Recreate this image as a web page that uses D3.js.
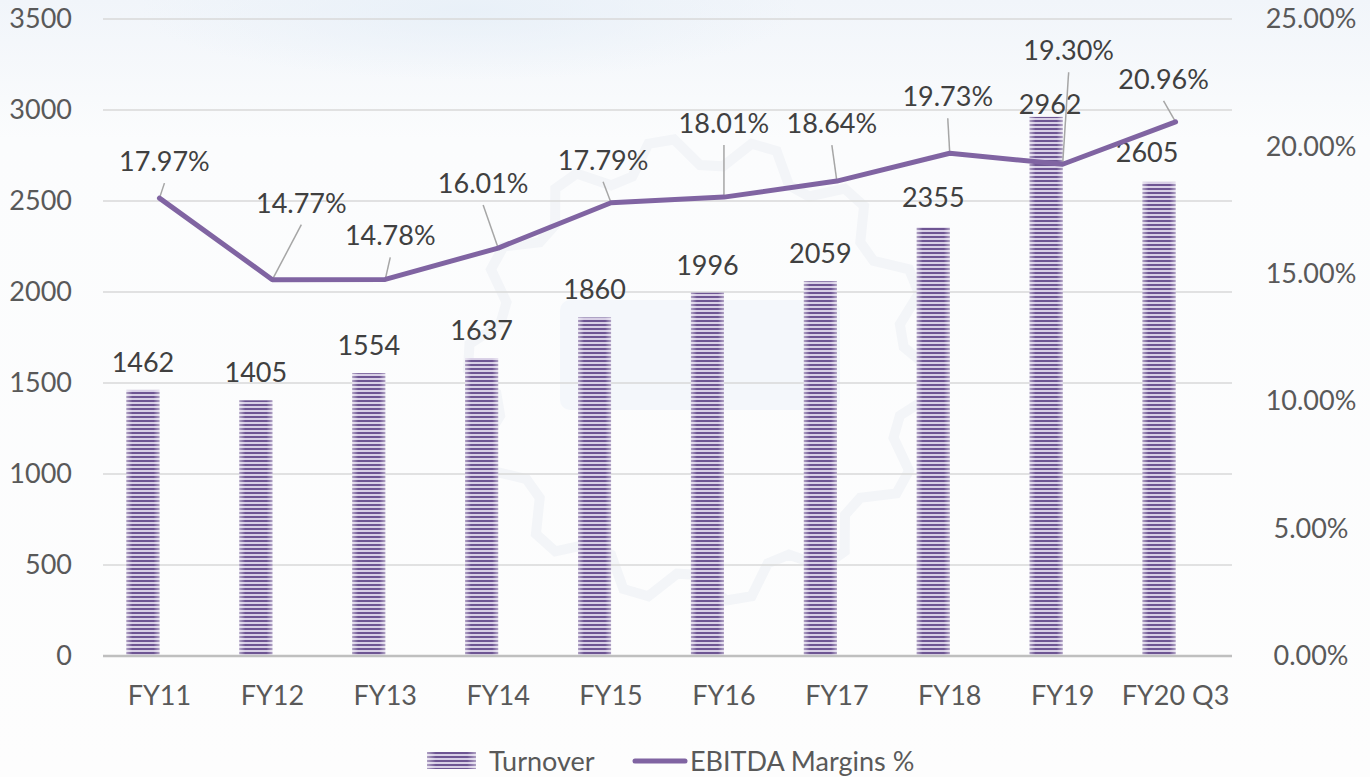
<!DOCTYPE html>
<html>
<head>
<meta charset="utf-8">
<script src="https://cdn.jsdelivr.net/npm/d3@7"></script>
<style>
  html, body { margin: 0; padding: 0; background: #fdfdfd; }
  svg { display: block; }
  text { font-family: Lato, "Open Sans", sans-serif; }
</style>
</head>
<body>
<svg id="chart" width="1370" height="777"></svg>
<script>
// ---- data ----
const categories = ["FY11", "FY12", "FY13", "FY14", "FY15", "FY16", "FY17", "FY18", "FY19", "FY20 Q3"];
const turnover = [1462, 1405, 1554, 1637, 1860, 1996, 2059, 2355, 2962, 2605];
const ebitdaMargin = [17.97, 14.77, 14.78, 16.01, 17.79, 18.01, 18.64, 19.73, 19.30, 20.96];
const leftTicks = [0, 500, 1000, 1500, 2000, 2500, 3000, 3500];
const rightTicks = [0, 5, 10, 15, 20, 25];
const seriesNames = ["Turnover", "EBITDA Margins %"];

// ---- label placement (layout only) ----
const marginLabelShift = [[5, -27], [29, -67], [5, -34], [-15, -55], [-8, -33], [0, -64], [-5, -48], [-2, -47], [6, -104], [-12, -33]];
const turnoverLabelShift = [[0, -18], [0, -18], [0, -18], [0, -18], [0, -18], [0, -18], [0, -18], [0, -20], [4, -3], [-12, -20]];

const svg = d3.select("#chart");
const W = 1370, H = 777;
const plotLeft = 103, plotRight = 1232, plotTop = 19, plotBottom = 656;
const purple = "#8064a2";
const FS = 27;

const defs = svg.append("defs");
const bg = defs.append("linearGradient").attr("id", "bg").attr("x1", 0).attr("y1", 0).attr("x2", 0).attr("y2", 1);
bg.append("stop").attr("offset", "0").attr("stop-color", "#f1f5fa");
bg.append("stop").attr("offset", "0.18").attr("stop-color", "#fbfcfd");
bg.append("stop").attr("offset", "1").attr("stop-color", "#fdfdfd");
const cloud = defs.append("radialGradient").attr("id", "cloud");
cloud.append("stop").attr("offset", "0").attr("stop-color", "#e8f0f8").attr("stop-opacity", 0.9);
cloud.append("stop").attr("offset", "1").attr("stop-color", "#e8f0f8").attr("stop-opacity", 0);

const pat = defs.append("pattern").attr("id", "stripes").attr("patternUnits", "userSpaceOnUse")
  .attr("width", 8).attr("height", 4);
pat.append("rect").attr("width", 8).attr("height", 4).attr("fill", "#d8cfe6");
pat.append("rect").attr("width", 8).attr("height", 2).attr("fill", "#6e5593");
const edge = defs.append("linearGradient").attr("id", "edge").attr("x1", 0).attr("x2", 1).attr("y1", 0).attr("y2", 0);
[[0, 0.45], [0.18, 0], [0.82, 0], [1, 0.45]].forEach(([o, a]) =>
  edge.append("stop").attr("offset", o).attr("stop-color", "#ffffff").attr("stop-opacity", a));

svg.append("rect").attr("width", W).attr("height", H).attr("fill", "url(#bg)");
svg.append("ellipse").attr("cx", 470).attr("cy", 10).attr("rx", 330).attr("ry", 70).attr("fill", "url(#cloud)");

// very faint watermark gear
(function () {
  const gx = 700, gy = 370, r1 = 205, r2 = 232, teeth = 14;
  const pts = [];
  for (let i = 0; i < teeth * 4; i++) {
    const a = (i / (teeth * 4)) * Math.PI * 2;
    const r = (Math.floor(i / 2) % 2 === 0) ? r2 : r1;
    pts.push([gx + r * Math.cos(a), gy + r * Math.sin(a)]);
  }
  svg.append("path").attr("d", d3.line().curve(d3.curveLinearClosed)(pts))
    .attr("fill", "none").attr("stroke", "#f3f5f8").attr("stroke-width", 10);
  svg.append("rect").attr("x", 560).attr("y", 300).attr("width", 280).attr("height", 110)
    .attr("rx", 10).attr("fill", "#f4f7fb");
})();

const x = d3.scaleBand().domain(categories).range([plotLeft, plotRight]).padding(0);
const yL = d3.scaleLinear().domain([0, 3500]).range([plotBottom, plotTop]);
const yR = d3.scaleLinear().domain([0, 25]).range([plotBottom, plotTop]);
const cx = d => x(d) + x.bandwidth() / 2;
const barW = 33;

// gridlines
svg.append("g").selectAll("line").data(leftTicks.filter(t => t > 0)).join("line")
  .attr("x1", plotLeft).attr("x2", plotRight).attr("y1", d => yL(d)).attr("y2", d => yL(d))
  .attr("stroke", "#d9d9d9").attr("stroke-width", 1.5);

// left axis
const axL = svg.append("g").attr("transform", `translate(${plotLeft},0)`)
  .call(d3.axisLeft(yL).tickValues(leftTicks).tickSize(0).tickPadding(31).tickFormat(d3.format("d")));
axL.select(".domain").remove();
axL.selectAll("text").attr("font-size", FS).attr("fill", "#595959").attr("font-family", "Lato");

// right axis
const axR = svg.append("g").attr("transform", `translate(${plotRight},0)`)
  .call(d3.axisRight(yR).tickValues(rightTicks).tickSize(0).tickPadding(79).tickFormat(d => d.toFixed(2) + "%"));
axR.select(".domain").remove();
axR.selectAll("text").attr("font-size", FS).attr("fill", "#595959").attr("font-family", "Lato").attr("text-anchor", "middle");

// bars
const bars = svg.append("g");
bars.selectAll("rect.bar").data(turnover).join("rect").attr("class", "bar")
  .attr("x", (d, i) => cx(categories[i]) - barW).attr("width", barW)
  .attr("y", d => yL(d)).attr("height", d => yL(0) - yL(d))
  .attr("fill", "url(#stripes)");
bars.selectAll("rect.edge").data(turnover).join("rect").attr("class", "edge")
  .attr("x", (d, i) => cx(categories[i]) - barW).attr("width", barW)
  .attr("y", d => yL(d)).attr("height", d => yL(0) - yL(d))
  .attr("fill", "url(#edge)");

// x axis
svg.append("line").attr("x1", plotLeft).attr("x2", plotRight).attr("y1", plotBottom).attr("y2", plotBottom)
  .attr("stroke", "#bfbfbf").attr("stroke-width", 2.5);
const axB = svg.append("g").attr("transform", `translate(0,${plotBottom})`)
  .call(d3.axisBottom(x).tickSize(0).tickPadding(30));
axB.select(".domain").remove();
axB.selectAll("text").attr("font-size", FS).attr("fill", "#595959").attr("font-family", "Lato");

// bar labels
svg.append("g").selectAll("text").data(turnover).join("text")
  .attr("x", (d, i) => cx(categories[i]) - barW / 2 + turnoverLabelShift[i][0])
  .attr("y", (d, i) => yL(d) + turnoverLabelShift[i][1])
  .attr("text-anchor", "middle").attr("font-size", FS).attr("fill", "#404040")
  .text(d => d);

// leader lines
const pt = (d, i) => [cx(categories[i]), yR(d)];
svg.append("g").selectAll("line").data(ebitdaMargin).join("line")
  .attr("x1", (d, i) => pt(d, i)[0]).attr("y1", (d, i) => pt(d, i)[1])
  .attr("x2", (d, i) => pt(d, i)[0] + marginLabelShift[i][0])
  .attr("y2", (d, i) => pt(d, i)[1] + marginLabelShift[i][1] + 12)
  .attr("stroke", "#a6a6a6").attr("stroke-width", 1.5);

// line
svg.append("path").datum(ebitdaMargin)
  .attr("d", d3.line().x((d, i) => cx(categories[i])).y(d => yR(d)))
  .attr("fill", "none").attr("stroke", purple).attr("stroke-width", 5)
  .attr("stroke-linejoin", "round").attr("stroke-linecap", "round");

// line labels
svg.append("g").selectAll("text").data(ebitdaMargin).join("text")
  .attr("x", (d, i) => pt(d, i)[0] + marginLabelShift[i][0])
  .attr("y", (d, i) => pt(d, i)[1] + marginLabelShift[i][1])
  .attr("text-anchor", "middle").attr("font-size", FS).attr("fill", "#404040")
  .text(d => d.toFixed(2) + "%");

// legend
const lg = svg.append("g");
lg.append("rect").attr("x", 427).attr("y", 752).attr("width", 49).attr("height", 17).attr("fill", "url(#stripes)");
lg.append("rect").attr("x", 427).attr("y", 752).attr("width", 49).attr("height", 17).attr("fill", "url(#edge)");
lg.append("text").attr("x", 489).attr("y", 771).attr("font-size", FS).attr("fill", "#595959").text(seriesNames[0]);
lg.append("line").attr("x1", 635).attr("x2", 685).attr("y1", 761).attr("y2", 761)
  .attr("stroke", purple).attr("stroke-width", 5).attr("stroke-linecap", "round");
lg.append("text").attr("x", 690).attr("y", 771).attr("font-size", FS).attr("fill", "#595959").text(seriesNames[1]);
</script>
</body>
</html>
